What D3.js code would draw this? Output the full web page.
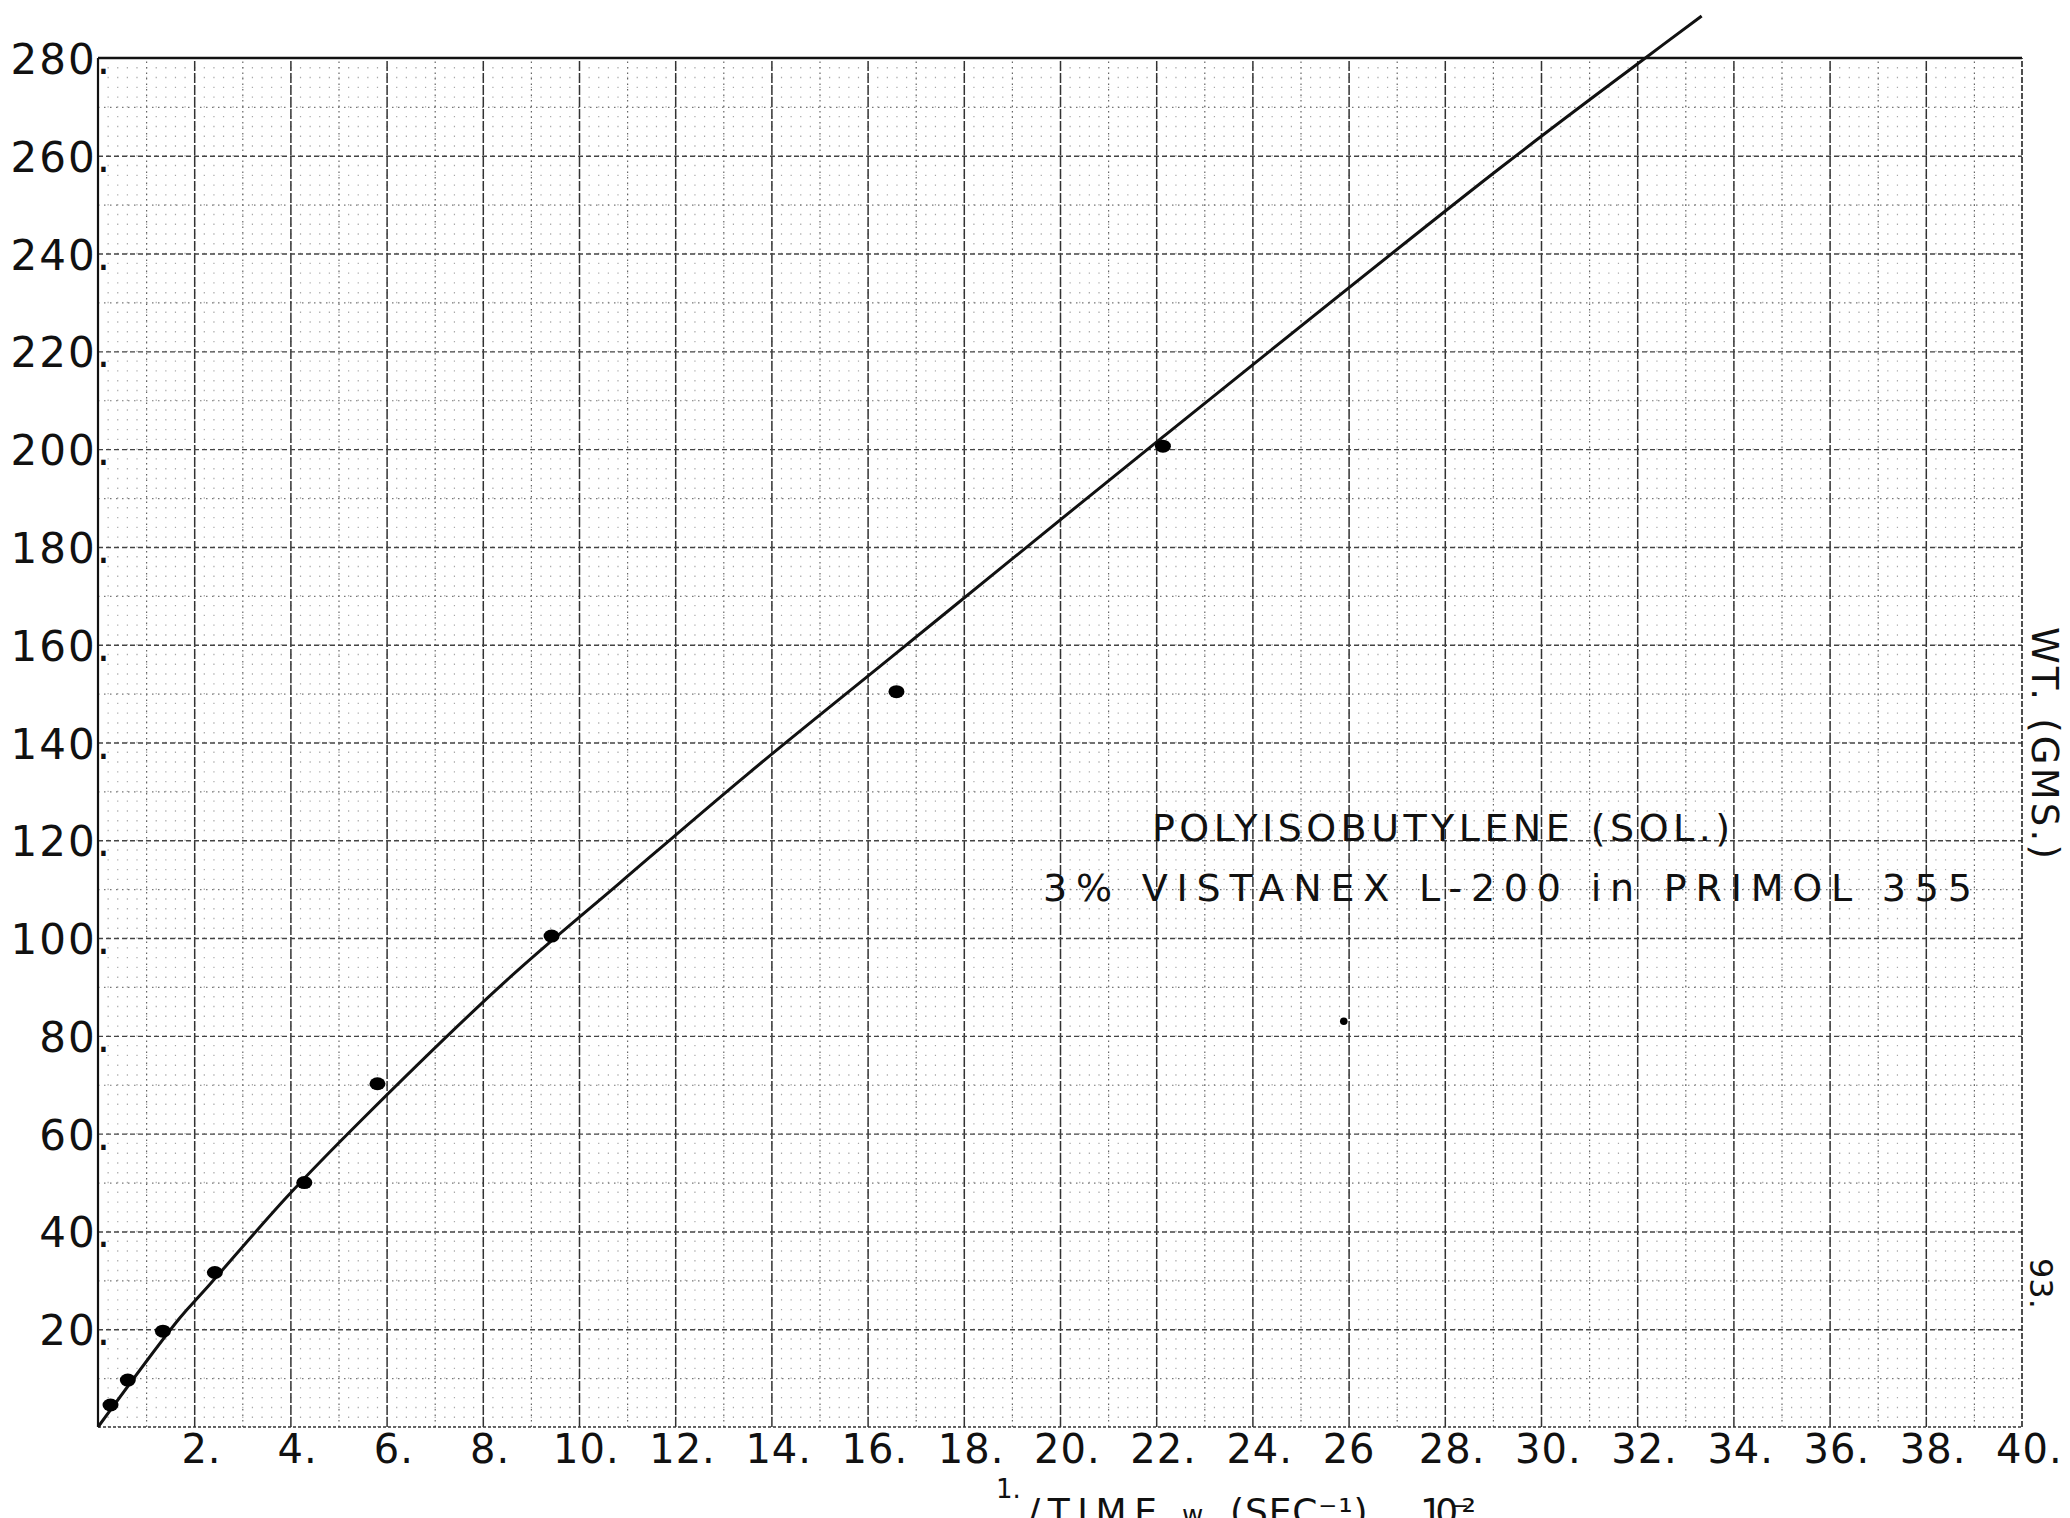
<!DOCTYPE html>
<html>
<head>
<meta charset="utf-8">
<script src="https://cdn.jsdelivr.net/npm/d3@7"></script>
<style>
  html, body { margin: 0; padding: 0; background: #fff; }
  svg { display: block; }
</style>
</head>
<body>
<svg id="chart" width="2070" height="1518"></svg>
<script>
// readings: 1/time (sec^-1) x 10^-2  vs  weight (gms)
var ptX = [0.26, 0.62, 1.35, 2.43, 4.29, 5.81, 9.43, 16.6, 22.14];
var ptY = [4.5, 9.6, 19.6, 31.6, 50, 70.2, 100.4, 150.4, 200.6];

// the hand drawn curve
var curveX = [0, 1.7, 2.22, 3.94, 5.48, 8.5, 10.85, 13.5, 16.5, 19.5, 22.14, 29.15, 32.17, 33.34];
var curveY = [0, 22.3, 28.0, 47.2, 62.8, 91.4, 111.3, 133.5, 157.5, 181.5, 202.5, 257.5, 280, 288.6];

// small stray mark on the sheet
var strayX = [25.9];
var strayY = [83];

var xTicks = d3.range(2, 41, 2);
var xLabels = ["2.", "4.", "6.", "8.", "10.", "12.", "14.", "16.", "18.", "20.",
               "22.", "24.", "26", "28.", "30.", "32.", "34.", "36.", "38.", "40."];
var yTicks = d3.range(20, 281, 20);
var yLabels = ["20.", "40.", "60.", "80.", "100.", "120.", "140.", "160.",
               "180.", "200.", "220.", "240.", "260.", "280."];

var L = 98, R = 2022, T = 58, B = 1427;
var font = "'DejaVu Sans', sans-serif";
var ink = "#111";

var x = d3.scaleLinear().domain([0, 40]).range([L, R]);
var y = d3.scaleLinear().domain([0, 280]).range([B, T]);
var svg = d3.select("#chart");

// graph paper rulings, drawn as axis ticks
function grid(vals, vertical, dash, color, width, offset) {
  var ax = vertical ? d3.axisBottom(x) : d3.axisLeft(y);
  ax.tickValues(vals).tickFormat("").tickSizeOuter(0)
    .tickSize(vertical ? -(B - T) : -(R - L));
  var g = svg.append("g")
    .attr("transform", vertical ? "translate(0," + B + ")" : "translate(" + L + ",0)")
    .call(ax);
  g.select(".domain").remove();
  g.selectAll("line")
    .attr("stroke", color)
    .attr("stroke-width", width)
    .attr("stroke-dasharray", dash)
    .attr("stroke-dashoffset", offset || 0);
  return g;
}

var fineStep = y(0) - y(2);
var fineX = d3.range(1, 200).map(function (i) { return i * 0.2; });
grid(fineX, true, "1.4," + (fineStep - 1.4), "#aaa", 1.2, 0.7);

var midX = d3.range(1, 40, 2);
var midY = d3.range(10, 280, 20);
grid(midX, true, "1.5,4", "#666", 1.2);
grid(midY, false, "1.5,4.5", "#777", 1.2);

var majX = d3.range(2, 40, 2);
var majY = d3.range(20, 280, 20);
grid(majX, true, "10,2", "#333", 1.5);
grid(majY, false, "5,3", "#444", 1.4);

// sheet border
svg.append("line").attr("x1", x(0)).attr("x2", x(40)).attr("y1", y(280)).attr("y2", y(280))
  .attr("stroke", ink).attr("stroke-width", 2.4);
svg.append("line").attr("x1", x(0)).attr("x2", x(0)).attr("y1", y(0)).attr("y2", y(280))
  .attr("stroke", ink).attr("stroke-width", 2.2);
svg.append("line").attr("x1", x(0)).attr("x2", x(40)).attr("y1", y(0)).attr("y2", y(0))
  .attr("stroke", "#333").attr("stroke-width", 1.5).attr("stroke-dasharray", "3,2");
svg.append("line").attr("x1", x(40)).attr("x2", x(40)).attr("y1", y(0)).attr("y2", y(280))
  .attr("stroke", "#222").attr("stroke-width", 1.6).attr("stroke-dasharray", "6,2");

// tick labels
var gy = svg.append("g").attr("transform", "translate(" + (L + 14) + ",0)")
  .call(d3.axisLeft(y).tickValues(yTicks).tickSize(0).tickPadding(0)
    .tickFormat(function (d, i) { return yLabels[i]; }));
gy.select(".domain").remove();
gy.attr("font-family", null).attr("font-size", null);
gy.selectAll("text")
  .attr("font-family", font).attr("font-size", 42).attr("fill", ink)
  .attr("letter-spacing", 2).attr("dy", "0.37em");

var gx = svg.append("g").attr("transform", "translate(0," + B + ")")
  .call(d3.axisBottom(x).tickValues(xTicks).tickSize(0).tickPadding(8)
    .tickFormat(function (d, i) { return xLabels[i]; }));
gx.select(".domain").remove();
gx.attr("font-family", null).attr("font-size", null);
gx.selectAll("text")
  .attr("font-family", font).attr("font-size", 40).attr("fill", ink)
  .attr("letter-spacing", 1)
  .attr("dx", function (d, i) { return xLabels[i].indexOf(".") >= 0 ? "0.17em" : 0; });

// drawn curve
var line = d3.line()
  .x(function (d) { return x(d[0]); })
  .y(function (d) { return y(d[1]); })
  .curve(d3.curveCatmullRom.alpha(0.5));
svg.append("path")
  .attr("d", line(curveX.map(function (v, i) { return [v, curveY[i]]; })))
  .attr("fill", "none").attr("stroke", ink).attr("stroke-width", 3);

// plotted points
svg.selectAll(".pt").data(ptX).enter().append("ellipse")
  .attr("class", "pt")
  .attr("cx", function (d) { return x(d); })
  .attr("cy", function (d, i) { return y(ptY[i]); })
  .attr("rx", 8).attr("ry", 6.5)
  .attr("fill", "#000");

svg.selectAll(".stray").data(strayX).enter().append("circle")
  .attr("class", "stray")
  .attr("cx", function (d) { return x(d); })
  .attr("cy", function (d, i) { return y(strayY[i]); })
  .attr("r", 3.8).attr("fill", "#000");

// lettering on the sheet
function label(txt, px, py, size, len) {
  var t = svg.append("text")
    .attr("x", px).attr("y", py)
    .attr("font-family", font).attr("font-size", size).attr("fill", ink)
    .text(txt);
  if (len) t.attr("textLength", len).attr("lengthAdjust", "spacing");
  return t;
}

label("POLYISOBUTYLENE (SOL.)", 1152, y(120) + 1, 38, 578);
label("3% VISTANEX  L-200  in  PRIMOL  355", 1043, y(107.5), 38, 929);

// y axis title, written along the right edge
svg.append("text")
  .attr("transform", "translate(2032,627) rotate(90)")
  .attr("font-family", font).attr("font-size", 37).attr("fill", ink)
  .attr("textLength", 232).attr("lengthAdjust", "spacing")
  .text("WT. (GMS.)");

// page number
svg.append("text")
  .attr("transform", "translate(2030,1258) rotate(90)")
  .attr("font-family", font).attr("font-size", 32).attr("fill", ink)
  .text("93.");

// x axis title, cut off by the edge of the scan
label("1.", 996, 1498, 26);
label("/TIME,", 1028, 1524, 36, 148);
label("w", 1182, 1524, 26);
label("(SEC\u207B\u00B9),", 1230, 1524, 36, 150);
label("10\u207B\u00B2", 1420, 1524, 36, 56);
</script>
</body>
</html>
